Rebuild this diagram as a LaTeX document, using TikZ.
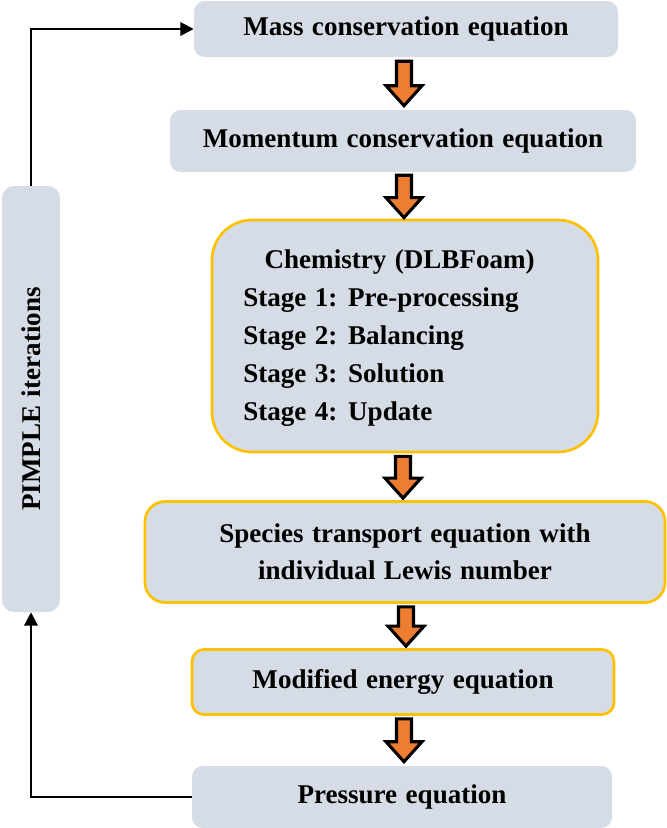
\documentclass[tikz,border=0pt]{standalone}
\usepackage{fontspec}
\setmainfont{Liberation Serif}[WordSpace=1.25]
\usetikzlibrary{calc,arrows.meta}
\definecolor{boxfill}{HTML}{D6DCE5}
\definecolor{gold}{HTML}{FFC000}
\definecolor{orarr}{HTML}{ED7D31}
\newcommand\orarrow[2]{%
  \draw[blockarr] ($(#1)+(-7.5,0)$) -- ($(#2)+(-7.5,-20)$) -- ($(#2)+(-18,-20)$) -- (#2) -- ($(#2)+(18,-20)$) -- ($(#2)+(7.5,-20)$) -- ($(#1)+(7.5,0)$) -- cycle;}
\begin{document}
\begin{tikzpicture}[x=0.75pt,y=-0.75pt,
  every node/.style={font=\fontsize{20.3}{28}\selectfont\bfseries},
  gbox/.style={fill=boxfill,draw=none,rounded corners=8pt,inner sep=0pt},
  obox/.style={fill=boxfill,draw=gold,line width=2pt,inner sep=0pt},
  blockarr/.style={fill=orarr,draw=black,line width=2.3pt,line join=miter},
  conn/.style={draw=black,line width=1.6pt,-{Triangle[length=10pt,width=10pt]}}]
\useasboundingbox (0,0) rectangle (667,828);
\node[gbox,minimum width=424*0.75pt,minimum height=56*0.75pt] (mass) at (406,29) {Mass conservation equation};
\node[gbox,minimum width=466*0.75pt,minimum height=62*0.75pt] (mom) at (403,141) {Momentum conservation equation};
\node[obox,rounded corners=30pt,minimum width=386*0.75pt,minimum height=232*0.75pt] (chem) at (405,336) {};
\node[align=left,inner sep=0pt,font=\fontsize{20.3}{28.5}\selectfont\bfseries] (chemtext) at (389,338) {\hspace*{16pt}Chemistry (DLBFoam)\\Stage 1: Pre-processing\\Stage 2: Balancing\\Stage 3: Solution\\Stage 4: Update};
\node[obox,rounded corners=15pt,minimum width=520*0.75pt,minimum height=101*0.75pt,align=center] (spec) at (405,552) {Species transport equation with\\individual Lewis number};
\node[obox,rounded corners=9pt,minimum width=422*0.75pt,minimum height=65*0.75pt] (energy) at (403,682) {Modified energy equation};
\node[gbox,minimum width=420*0.75pt,minimum height=62*0.75pt] (pres) at (402,797) {Pressure equation};
\node[gbox,rounded corners=9pt,minimum width=426*0.75pt,minimum height=58*0.75pt,rotate=90] (pimple) at (31,399) {PIMPLE iterations};
\coordinate (a1s) at ($(mass.south)+(-2,4)$);
\coordinate (a1e) at ($(mom.north)+(1,-4)$);
\coordinate (a2s) at ($(mom.south)+(1,3)$);
\coordinate (a2e) at ($(chem.north)+(-1,-1)$);
\coordinate (a3s) at ($(chem.south)+(-2,3)$);
\coordinate (a3e) at ($(spec.north)+(-2,-2)$);
\coordinate (a4s) at ($(spec.south)+(1,3)$);
\coordinate (a4e) at ($(energy.north)+(3,-2)$);
\coordinate (a5s) at ($(energy.south)+(1,3)$);
\coordinate (a5e) at ($(pres.north)+(2,-4)$);
\orarrow{a1s}{a1e}
\orarrow{a2s}{a2e}
\orarrow{a3s}{a3e}
\orarrow{a4s}{a4e}
\orarrow{a5s}{a5e}
\draw[conn] (pres.west) -| (pimple.west);
\draw[conn] (pimple.east) |- (mass.west);
\end{tikzpicture}
\end{document}
